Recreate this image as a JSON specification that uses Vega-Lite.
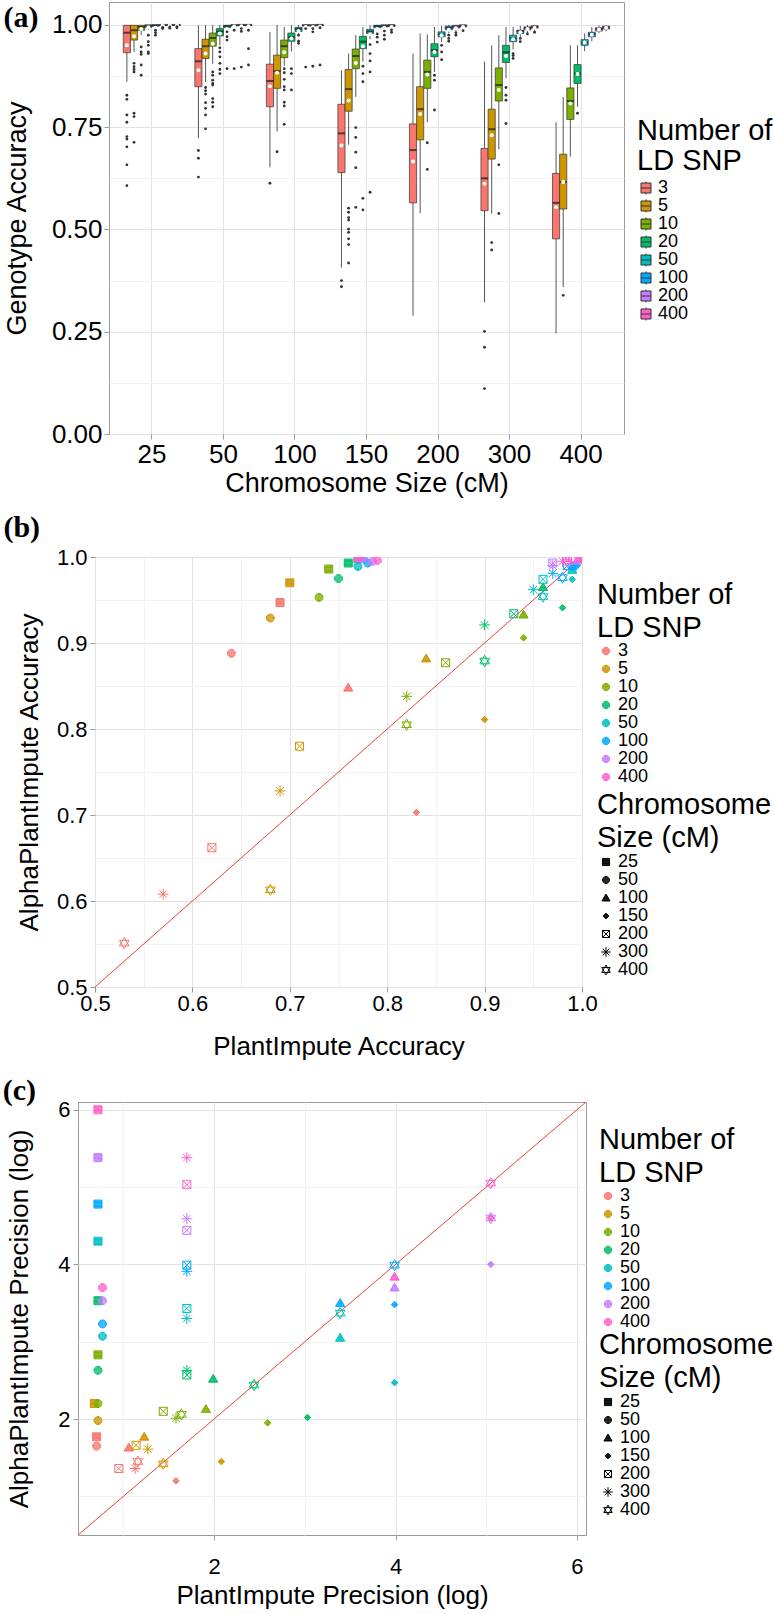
{
"$schema": "https://vega.github.io/schema/vega-lite/v6.json",
"padding": {"left": 1, "top": 1, "right": 0, "bottom": 0},
"datasets": {
"boxes": [
{"s":25,"ld":3,"lo":0.861,"q1":0.932,"med":0.981,"q3":0.999,"hi":1,"mean":0.950},
{"s":25,"ld":5,"lo":0.934,"q1":0.963,"med":0.987,"q3":0.999,"hi":1,"mean":0.972},
{"s":25,"ld":10,"lo":0.975,"q1":0.987,"med":0.995,"q3":0.999,"hi":1,"mean":0.990},
{"s":25,"ld":20,"lo":0.988,"q1":0.994,"med":0.998,"q3":1,"hi":1,"mean":0.994},
{"s":25,"ld":50,"lo":0.995,"q1":0.997,"med":0.999,"q3":1,"hi":1,"mean":0.993},
{"s":25,"ld":100,"lo":0.998,"q1":0.999,"med":1,"q3":1,"hi":1,"mean":0.999},
{"s":25,"ld":200,"lo":0.998,"q1":0.999,"med":1,"q3":1,"hi":1,"mean":0.999},
{"s":25,"ld":400,"lo":0.998,"q1":0.999,"med":1,"q3":1,"hi":1,"mean":0.999},
{"s":50,"ld":3,"lo":0.723,"q1":0.849,"med":0.911,"q3":0.942,"hi":0.999,"mean":0.889},
{"s":50,"ld":5,"lo":0.860,"q1":0.918,"med":0.948,"q3":0.965,"hi":1,"mean":0.930},
{"s":50,"ld":10,"lo":0.905,"q1":0.948,"med":0.968,"q3":0.980,"hi":1,"mean":0.954},
{"s":50,"ld":20,"lo":0.950,"q1":0.973,"med":0.984,"q3":0.991,"hi":1,"mean":0.979},
{"s":50,"ld":50,"lo":0.985,"q1":0.993,"med":0.997,"q3":0.999,"hi":1,"mean":0.990},
{"s":50,"ld":100,"lo":0.995,"q1":0.998,"med":0.999,"q3":1,"hi":1,"mean":0.996},
{"s":50,"ld":200,"lo":0.996,"q1":0.998,"med":1,"q3":1,"hi":1,"mean":0.997},
{"s":50,"ld":400,"lo":0.996,"q1":0.998,"med":1,"q3":1,"hi":1,"mean":0.997},
{"s":100,"ld":3,"lo":0.652,"q1":0.800,"med":0.863,"q3":0.904,"hi":0.983,"mean":0.850},
{"s":100,"ld":5,"lo":0.739,"q1":0.845,"med":0.887,"q3":0.926,"hi":1,"mean":0.883},
{"s":100,"ld":10,"lo":0.900,"q1":0.920,"med":0.948,"q3":0.963,"hi":0.995,"mean":0.933},
{"s":100,"ld":20,"lo":0.935,"q1":0.960,"med":0.970,"q3":0.980,"hi":1,"mean":0.967},
{"s":100,"ld":50,"lo":0.978,"q1":0.984,"med":0.990,"q3":0.994,"hi":1,"mean":0.985},
{"s":100,"ld":100,"lo":0.995,"q1":0.998,"med":0.999,"q3":1,"hi":1,"mean":0.995},
{"s":100,"ld":200,"lo":0.995,"q1":0.998,"med":0.999,"q3":1,"hi":1,"mean":0.995},
{"s":100,"ld":400,"lo":0.996,"q1":0.998,"med":1,"q3":1,"hi":1,"mean":0.996},
{"s":150,"ld":3,"lo":0.407,"q1":0.639,"med":0.735,"q3":0.806,"hi":0.889,"mean":0.705},
{"s":150,"ld":5,"lo":0.707,"q1":0.789,"med":0.843,"q3":0.891,"hi":0.930,"mean":0.815},
{"s":150,"ld":10,"lo":0.824,"q1":0.893,"med":0.924,"q3":0.941,"hi":0.975,"mean":0.907},
{"s":150,"ld":20,"lo":0.910,"q1":0.942,"med":0.959,"q3":0.972,"hi":0.995,"mean":0.948},
{"s":150,"ld":50,"lo":0.965,"q1":0.979,"med":0.984,"q3":0.989,"hi":0.999,"mean":0.977},
{"s":150,"ld":100,"lo":0.985,"q1":0.993,"med":0.997,"q3":0.999,"hi":1,"mean":0.990},
{"s":150,"ld":200,"lo":0.990,"q1":0.995,"med":0.998,"q3":1,"hi":1,"mean":0.993},
{"s":150,"ld":400,"lo":0.992,"q1":0.996,"med":0.999,"q3":1,"hi":1,"mean":0.995},
{"s":200,"ld":3,"lo":0.289,"q1":0.565,"med":0.694,"q3":0.758,"hi":0.930,"mean":0.666},
{"s":200,"ld":5,"lo":0.540,"q1":0.719,"med":0.794,"q3":0.849,"hi":0.979,"mean":0.782},
{"s":200,"ld":10,"lo":0.762,"q1":0.845,"med":0.885,"q3":0.914,"hi":0.977,"mean":0.879},
{"s":200,"ld":20,"lo":0.885,"q1":0.922,"med":0.938,"q3":0.954,"hi":0.995,"mean":0.934},
{"s":200,"ld":50,"lo":0.958,"q1":0.971,"med":0.977,"q3":0.983,"hi":0.998,"mean":0.975},
{"s":200,"ld":100,"lo":0.980,"q1":0.988,"med":0.993,"q3":0.997,"hi":1,"mean":0.988},
{"s":200,"ld":200,"lo":0.985,"q1":0.992,"med":0.996,"q3":0.999,"hi":1,"mean":0.992},
{"s":200,"ld":400,"lo":0.990,"q1":0.995,"med":0.998,"q3":1,"hi":1,"mean":0.995},
{"s":300,"ld":3,"lo":0.322,"q1":0.546,"med":0.625,"q3":0.698,"hi":0.910,"mean":0.612},
{"s":300,"ld":5,"lo":0.539,"q1":0.672,"med":0.745,"q3":0.794,"hi":0.950,"mean":0.730},
{"s":300,"ld":10,"lo":0.696,"q1":0.814,"med":0.853,"q3":0.895,"hi":0.975,"mean":0.841},
{"s":300,"ld":20,"lo":0.870,"q1":0.908,"med":0.933,"q3":0.950,"hi":0.995,"mean":0.924},
{"s":300,"ld":50,"lo":0.940,"q1":0.959,"med":0.967,"q3":0.975,"hi":0.995,"mean":0.965},
{"s":300,"ld":100,"lo":0.970,"q1":0.979,"med":0.985,"q3":0.987,"hi":0.998,"mean":0.982},
{"s":300,"ld":200,"lo":0.980,"q1":0.988,"med":0.992,"q3":0.995,"hi":1,"mean":0.990},
{"s":300,"ld":400,"lo":0.985,"q1":0.992,"med":0.995,"q3":0.998,"hi":1,"mean":0.993},
{"s":400,"ld":3,"lo":0.246,"q1":0.477,"med":0.565,"q3":0.637,"hi":0.762,"mean":0.554},
{"s":400,"ld":5,"lo":0.359,"q1":0.550,"med":0.616,"q3":0.684,"hi":0.824,"mean":0.616},
{"s":400,"ld":10,"lo":0.678,"q1":0.769,"med":0.814,"q3":0.846,"hi":0.950,"mean":0.808},
{"s":400,"ld":20,"lo":0.800,"q1":0.857,"med":0.881,"q3":0.903,"hi":0.950,"mean":0.880},
{"s":400,"ld":50,"lo":0.936,"q1":0.950,"med":0.957,"q3":0.964,"hi":0.979,"mean":0.957},
{"s":400,"ld":100,"lo":0.960,"q1":0.971,"med":0.977,"q3":0.982,"hi":0.995,"mean":0.976},
{"s":400,"ld":200,"lo":0.980,"q1":0.985,"med":0.990,"q3":0.993,"hi":0.999,"mean":0.989},
{"s":400,"ld":400,"lo":0.985,"q1":0.990,"med":0.994,"q3":0.997,"hi":1,"mean":0.993}
],
"outl": [
{"s":25,"ld":3,"v":0.828},{"s":25,"ld":3,"v":0.818},{"s":25,"ld":3,"v":0.780},{"s":25,"ld":3,"v":0.762},{"s":25,"ld":3,"v":0.727},{"s":25,"ld":3,"v":0.721},{"s":25,"ld":3,"v":0.702},{"s":25,"ld":3,"v":0.658},{"s":25,"ld":3,"v":0.607},
{"s":25,"ld":5,"v":0.906},{"s":25,"ld":5,"v":0.898},{"s":25,"ld":5,"v":0.891},{"s":25,"ld":5,"v":0.885},{"s":25,"ld":5,"v":0.784},{"s":25,"ld":5,"v":0.776},{"s":25,"ld":5,"v":0.713},
{"s":25,"ld":10,"v":0.946},{"s":25,"ld":10,"v":0.934},{"s":25,"ld":10,"v":0.928},{"s":25,"ld":10,"v":0.902},{"s":25,"ld":10,"v":0.877},
{"s":25,"ld":20,"v":0.975},{"s":25,"ld":20,"v":0.959},{"s":25,"ld":20,"v":0.950},{"s":25,"ld":20,"v":0.934},{"s":25,"ld":20,"v":0.930},
{"s":25,"ld":50,"v":0.987},{"s":25,"ld":50,"v":0.981},{"s":25,"ld":50,"v":0.975},
{"s":25,"ld":100,"v":0.994},{"s":25,"ld":100,"v":0.991},{"s":25,"ld":200,"v":0.995},{"s":25,"ld":200,"v":0.992},{"s":25,"ld":400,"v":0.996},{"s":25,"ld":400,"v":0.993},
{"s":50,"ld":3,"v":0.693},{"s":50,"ld":3,"v":0.674},{"s":50,"ld":3,"v":0.628},
{"s":50,"ld":5,"v":0.847},{"s":50,"ld":5,"v":0.839},{"s":50,"ld":5,"v":0.831},{"s":50,"ld":5,"v":0.810},{"s":50,"ld":5,"v":0.796},{"s":50,"ld":5,"v":0.780},{"s":50,"ld":5,"v":0.746},
{"s":50,"ld":10,"v":0.885},{"s":50,"ld":10,"v":0.877},{"s":50,"ld":10,"v":0.865},{"s":50,"ld":10,"v":0.857},{"s":50,"ld":10,"v":0.853},{"s":50,"ld":10,"v":0.820},{"s":50,"ld":10,"v":0.811},{"s":50,"ld":10,"v":0.800},
{"s":50,"ld":20,"v":0.944},{"s":50,"ld":20,"v":0.934},{"s":50,"ld":20,"v":0.922},{"s":50,"ld":20,"v":0.906},{"s":50,"ld":20,"v":0.891},{"s":50,"ld":20,"v":0.881},
{"s":50,"ld":50,"v":0.983},{"s":50,"ld":50,"v":0.971},{"s":50,"ld":50,"v":0.963},{"s":50,"ld":50,"v":0.893},
{"s":50,"ld":100,"v":0.987},{"s":50,"ld":100,"v":0.893},
{"s":50,"ld":200,"v":0.991},{"s":50,"ld":200,"v":0.984},{"s":50,"ld":200,"v":0.897},
{"s":50,"ld":400,"v":0.987},{"s":50,"ld":400,"v":0.942},{"s":50,"ld":400,"v":0.902},
{"s":100,"ld":3,"v":0.613},{"s":100,"ld":5,"v":0.690},
{"s":100,"ld":10,"v":0.893},{"s":100,"ld":10,"v":0.883},{"s":100,"ld":10,"v":0.867},{"s":100,"ld":10,"v":0.849},{"s":100,"ld":10,"v":0.841},{"s":100,"ld":10,"v":0.811},{"s":100,"ld":10,"v":0.802},{"s":100,"ld":10,"v":0.757},
{"s":100,"ld":20,"v":0.893},{"s":100,"ld":20,"v":0.881},{"s":100,"ld":20,"v":0.841},
{"s":100,"ld":50,"v":0.975},{"s":100,"ld":50,"v":0.960},{"s":100,"ld":50,"v":0.955},
{"s":100,"ld":100,"v":0.991},{"s":100,"ld":100,"v":0.897},
{"s":100,"ld":200,"v":0.991},{"s":100,"ld":200,"v":0.983},{"s":100,"ld":200,"v":0.899},
{"s":100,"ld":400,"v":0.993},{"s":100,"ld":400,"v":0.902},
{"s":150,"ld":3,"v":0.375},{"s":150,"ld":3,"v":0.360},
{"s":150,"ld":5,"v":0.552},{"s":150,"ld":5,"v":0.542},{"s":150,"ld":5,"v":0.529},{"s":150,"ld":5,"v":0.523},{"s":150,"ld":5,"v":0.501},{"s":150,"ld":5,"v":0.493},{"s":150,"ld":5,"v":0.477},{"s":150,"ld":5,"v":0.463},{"s":150,"ld":5,"v":0.418},
{"s":150,"ld":10,"v":0.749},{"s":150,"ld":10,"v":0.725},{"s":150,"ld":10,"v":0.689},{"s":150,"ld":10,"v":0.651},{"s":150,"ld":10,"v":0.554},
{"s":150,"ld":20,"v":0.899},{"s":150,"ld":20,"v":0.881},{"s":150,"ld":20,"v":0.861},{"s":150,"ld":20,"v":0.576},{"s":150,"ld":20,"v":0.548},
{"s":150,"ld":50,"v":0.952},{"s":150,"ld":50,"v":0.930},{"s":150,"ld":50,"v":0.912},{"s":150,"ld":50,"v":0.885},{"s":150,"ld":50,"v":0.591},
{"s":150,"ld":100,"v":0.978},{"s":150,"ld":100,"v":0.970},{"s":150,"ld":100,"v":0.958},
{"s":150,"ld":200,"v":0.985},{"s":150,"ld":200,"v":0.975},{"s":150,"ld":200,"v":0.965},
{"s":150,"ld":400,"v":0.988},{"s":150,"ld":400,"v":0.982},
{"s":200,"ld":10,"v":0.712},{"s":200,"ld":10,"v":0.647},
{"s":200,"ld":20,"v":0.877},{"s":200,"ld":20,"v":0.865},{"s":200,"ld":20,"v":0.792},
{"s":200,"ld":50,"v":0.950},{"s":200,"ld":50,"v":0.934},{"s":200,"ld":50,"v":0.915},
{"s":200,"ld":100,"v":0.975},{"s":200,"ld":100,"v":0.967},{"s":200,"ld":100,"v":0.960},
{"s":200,"ld":200,"v":0.981},{"s":200,"ld":200,"v":0.975},{"s":200,"ld":400,"v":0.986},
{"s":300,"ld":3,"v":0.251},{"s":300,"ld":3,"v":0.212},{"s":300,"ld":3,"v":0.111},
{"s":300,"ld":5,"v":0.468},{"s":300,"ld":5,"v":0.450},
{"s":300,"ld":10,"v":0.658},{"s":300,"ld":10,"v":0.539},
{"s":300,"ld":20,"v":0.847},{"s":300,"ld":20,"v":0.828},{"s":300,"ld":20,"v":0.816},{"s":300,"ld":20,"v":0.759},
{"s":300,"ld":50,"v":0.930},{"s":300,"ld":50,"v":0.925},{"s":300,"ld":50,"v":0.918},
{"s":300,"ld":100,"v":0.967},{"s":300,"ld":100,"v":0.959},
{"s":300,"ld":200,"v":0.978},{"s":300,"ld":400,"v":0.982},
{"s":400,"ld":5,"v":0.339},{"s":400,"ld":20,"v":0.784}
],
"ptsB": [
{"ld":3,"s":25,"pi":0.69,"api":0.947},{"ld":3,"s":50,"pi":0.64,"api":0.888},{"ld":3,"s":100,"pi":0.76,"api":0.848},{"ld":3,"s":150,"pi":0.83,"api":0.703},{"ld":3,"s":200,"pi":0.62,"api":0.662},{"ld":3,"s":300,"pi":0.57,"api":0.608},{"ld":3,"s":400,"pi":0.53,"api":0.551},
{"ld":5,"s":25,"pi":0.70,"api":0.970},{"ld":5,"s":50,"pi":0.68,"api":0.929},{"ld":5,"s":100,"pi":0.84,"api":0.882},{"ld":5,"s":150,"pi":0.90,"api":0.811},{"ld":5,"s":200,"pi":0.71,"api":0.780},{"ld":5,"s":300,"pi":0.69,"api":0.728},{"ld":5,"s":400,"pi":0.68,"api":0.613},
{"ld":10,"s":25,"pi":0.74,"api":0.986},{"ld":10,"s":50,"pi":0.73,"api":0.953},{"ld":10,"s":100,"pi":0.94,"api":0.933},{"ld":10,"s":150,"pi":0.94,"api":0.906},{"ld":10,"s":200,"pi":0.86,"api":0.877},{"ld":10,"s":300,"pi":0.82,"api":0.838},{"ld":10,"s":400,"pi":0.82,"api":0.805},
{"ld":20,"s":25,"pi":0.76,"api":0.993},{"ld":20,"s":50,"pi":0.75,"api":0.975},{"ld":20,"s":100,"pi":0.96,"api":0.965},{"ld":20,"s":150,"pi":0.98,"api":0.941},{"ld":20,"s":200,"pi":0.93,"api":0.934},{"ld":20,"s":300,"pi":0.90,"api":0.921},{"ld":20,"s":400,"pi":0.90,"api":0.879},
{"ld":50,"s":25,"pi":0.77,"api":0.998},{"ld":50,"s":50,"pi":0.77,"api":0.989},{"ld":50,"s":100,"pi":0.99,"api":0.985},{"ld":50,"s":150,"pi":0.99,"api":0.974},{"ld":50,"s":200,"pi":0.96,"api":0.974},{"ld":50,"s":300,"pi":0.95,"api":0.962},{"ld":50,"s":400,"pi":0.96,"api":0.954},
{"ld":100,"s":25,"pi":0.775,"api":0.999},{"ld":100,"s":50,"pi":0.78,"api":0.993},{"ld":100,"s":100,"pi":0.99,"api":0.989},{"ld":100,"s":150,"pi":0.995,"api":0.99},{"ld":100,"s":200,"pi":0.985,"api":0.99},{"ld":100,"s":300,"pi":0.97,"api":0.981},{"ld":100,"s":400,"pi":0.98,"api":0.976},
{"ld":200,"s":25,"pi":0.775,"api":0.999},{"ld":200,"s":50,"pi":0.785,"api":0.995},{"ld":200,"s":100,"pi":0.995,"api":0.996},{"ld":200,"s":150,"pi":0.998,"api":0.995},{"ld":200,"s":200,"pi":0.97,"api":0.993},{"ld":200,"s":300,"pi":0.97,"api":0.99},{"ld":200,"s":400,"pi":0.985,"api":0.994},
{"ld":400,"s":25,"pi":0.77,"api":0.999},{"ld":400,"s":50,"pi":0.79,"api":0.996},{"ld":400,"s":100,"pi":1.0,"api":0.998},{"ld":400,"s":150,"pi":0.999,"api":0.998},{"ld":400,"s":200,"pi":0.985,"api":0.997},{"ld":400,"s":300,"pi":0.98,"api":0.995},{"ld":400,"s":400,"pi":0.99,"api":0.998}
],
"ptsC": [
{"ld":3,"s":25,"pi":0.705,"api":1.77},{"ld":3,"s":50,"pi":0.705,"api":1.65},{"ld":3,"s":100,"pi":1.06,"api":1.63},{"ld":3,"s":150,"pi":1.58,"api":1.20},{"ld":3,"s":200,"pi":0.95,"api":1.36},{"ld":3,"s":300,"pi":1.13,"api":1.36},{"ld":3,"s":400,"pi":1.16,"api":1.45},
{"ld":5,"s":25,"pi":0.68,"api":2.20},{"ld":5,"s":50,"pi":0.72,"api":1.98},{"ld":5,"s":100,"pi":1.23,"api":1.77},{"ld":5,"s":150,"pi":2.08,"api":1.45},{"ld":5,"s":200,"pi":1.14,"api":1.66},{"ld":5,"s":300,"pi":1.27,"api":1.61},{"ld":5,"s":400,"pi":1.44,"api":1.42},
{"ld":10,"s":25,"pi":0.72,"api":2.83},{"ld":10,"s":50,"pi":0.72,"api":2.20},{"ld":10,"s":100,"pi":1.91,"api":2.13},{"ld":10,"s":150,"pi":2.59,"api":1.95},{"ld":10,"s":200,"pi":1.44,"api":2.10},{"ld":10,"s":300,"pi":1.58,"api":2.01},{"ld":10,"s":400,"pi":1.64,"api":2.06},
{"ld":20,"s":25,"pi":0.72,"api":3.53},{"ld":20,"s":50,"pi":0.72,"api":2.63},{"ld":20,"s":100,"pi":1.99,"api":2.52},{"ld":20,"s":150,"pi":3.03,"api":2.02},{"ld":20,"s":200,"pi":1.70,"api":2.57},{"ld":20,"s":300,"pi":1.70,"api":2.63},{"ld":20,"s":400,"pi":2.44,"api":2.44},
{"ld":50,"s":25,"pi":0.72,"api":4.30},{"ld":50,"s":50,"pi":0.77,"api":3.07},{"ld":50,"s":100,"pi":3.39,"api":3.05},{"ld":50,"s":150,"pi":3.99,"api":2.47},{"ld":50,"s":200,"pi":1.70,"api":3.43},{"ld":50,"s":300,"pi":1.70,"api":3.30},{"ld":50,"s":400,"pi":3.39,"api":3.37},
{"ld":100,"s":25,"pi":0.72,"api":4.78},{"ld":100,"s":50,"pi":0.77,"api":3.23},{"ld":100,"s":100,"pi":3.39,"api":3.50},{"ld":100,"s":150,"pi":3.99,"api":3.48},{"ld":100,"s":200,"pi":1.70,"api":3.99},{"ld":100,"s":300,"pi":1.70,"api":3.91},{"ld":100,"s":400,"pi":3.99,"api":3.99},
{"ld":200,"s":25,"pi":0.72,"api":5.38},{"ld":200,"s":50,"pi":0.77,"api":3.53},{"ld":200,"s":100,"pi":3.99,"api":3.70},{"ld":200,"s":150,"pi":5.05,"api":4.0},{"ld":200,"s":200,"pi":1.70,"api":4.44},{"ld":200,"s":300,"pi":1.70,"api":4.59},{"ld":200,"s":400,"pi":5.05,"api":4.6},
{"ld":400,"s":25,"pi":0.72,"api":6.0},{"ld":400,"s":50,"pi":0.77,"api":3.70},{"ld":400,"s":100,"pi":3.99,"api":3.84},{"ld":400,"s":150,"pi":5.05,"api":4.6},{"ld":400,"s":200,"pi":1.70,"api":5.03},{"ld":400,"s":300,"pi":1.70,"api":5.38},{"ld":400,"s":400,"pi":5.05,"api":5.05}
],
"diagB": [{"v":0.5},{"v":1.0}],
"diagC": [{"v":0.5},{"v":6.1}],
"none": []
},
"concat": [
{"hconcat": [
{"width": 1, "height": 1, "data": {"name": "none"}, "mark": {"type": "point", "opacity": 0}, "view": {"stroke": null}},
{
"width": 515, "height": 432,
"title": {"text": "(a)", "anchor": "start", "frame": "bounds", "font": "Liberation Serif", "fontWeight": "bold", "fontSize": 30, "baseline": "top", "offset": -31, "color": "#000"},
"encoding": {
 "x": {"field": "s", "type": "ordinal", "title": "Chromosome Size (cM)", "scale": {"domain": [25,50,100,150,200,300,400], "paddingInner": 0, "paddingOuter": 0.1},
  "axis": {"labelAngle": 0, "labelFontSize": 26, "titleFontSize": 27, "labelPadding": 2, "titlePadding": 3, "grid": true, "bandPosition": 0.5}},
 "xOffset": {"field": "ld", "type": "ordinal", "scale": {"domain": [3,5,10,20,50,100,200,400], "paddingInner": 0, "paddingOuter": 1.36}}
},
"layer": [
 {"data": {"name": "boxes"}, "mark": {"type": "rule", "color": "#555555", "strokeWidth": 1},
  "encoding": {"y": {"field": "lo", "type": "quantitative", "title": "Genotype Accuracy", "scale": {"domain": [0, 1.056], "nice": false, "zero": false},
    "axis": {"values": [0,0.125,0.25,0.375,0.5,0.625,0.75,0.875,1], "format": ".2f", "labelExpr": "(datum.value*4) % 1 === 0 ? datum.label : ''",
     "tickOpacity": {"condition": {"test": "(datum.value*4) % 1 === 0", "value": 1}, "value": 0},
     "gridColor": {"condition": {"test": "(datum.value*4) % 1 === 0", "value": "#e3e3e3"}, "value": "#f2f2f2"},
     "labelFontSize": 26, "titleFontSize": 27, "labelPadding": 2, "titlePadding": 20}},
   "y2": {"field": "hi"}}},
 {"data": {"name": "boxes"}, "mark": {"type": "bar", "stroke": "#333333", "strokeWidth": 0.7},
  "encoding": {"y": {"field": "q1", "type": "quantitative", "title": "Genotype Accuracy"}, "y2": {"field": "q3"},
   "fill": {"field": "ld", "type": "ordinal", "scale": {"domain": [3,5,10,20,50,100,200,400], "range": ["#F8766D","#CD9600","#7CAE00","#00BE67","#00BFC4","#00A9FF","#C77CFF","#FF61CC"]},
    "legend": {"orient": "none", "legendX": 528, "legendY": 115, "title": ["Number of", "LD SNP"], "titleFontSize": 29, "titleLineHeight": 30, "titlePadding": 3,
     "labelFontSize": 18, "labelOffset": 3, "rowPadding": 0, "symbolType": "M0,-1.3V-1 M-1,-1H1V1H-1Z M0,1V1.3 M-1,0H1", "symbolSize": 100, "symbolStrokeColor": "#333333", "symbolStrokeWidth": 1}}}},
 {"data": {"name": "boxes"}, "mark": {"type": "tick", "color": "#1a1a1a", "thickness": 2, "size": 7, "orient": "horizontal"},
  "encoding": {"y": {"field": "med", "type": "quantitative", "title": "Genotype Accuracy"}}},
 {"data": {"name": "boxes"}, "mark": {"type": "point", "filled": true, "color": "#ffffff", "size": 16, "opacity": 1},
  "encoding": {"y": {"field": "mean", "type": "quantitative", "title": "Genotype Accuracy"}}},
 {"data": {"name": "outl"}, "mark": {"type": "point", "filled": true, "color": "#333333", "size": 8, "opacity": 1},
  "encoding": {"y": {"field": "v", "type": "quantitative", "title": "Genotype Accuracy"}}}
]
}],
"spacing": 0,
"resolve": {"scale": {"fill": "independent", "color": "independent", "shape": "independent"}, "legend": {"fill": "independent", "color": "independent", "shape": "independent"}}
},
{"hconcat": [
{"width": 1, "height": 1, "data": {"name": "none"}, "mark": {"type": "point", "opacity": 0}, "view": {"stroke": null}},
{
"width": 487, "height": 430,
"title": {"text": "(b)", "anchor": "start", "frame": "bounds", "font": "Liberation Serif", "fontWeight": "bold", "fontSize": 30, "baseline": "alphabetic", "offset": -21, "dx": -13, "color": "#000"},
"layer": [
 {"data": {"name": "diagB"}, "mark": {"type": "line", "color": "#e8443a", "strokeWidth": 1, "clip": true},
  "encoding": {
   "x": {"field": "v", "type": "quantitative", "title": "PlantImpute Accuracy", "scale": {"domain": [0.5, 1.0], "nice": false, "zero": false},
    "axis": {"values": [0.5,0.55,0.6,0.65,0.7,0.75,0.8,0.85,0.9,0.95,1], "format": ".1f", "labelExpr": "round(datum.value*20) % 2 === 0 ? datum.label : ''",
     "tickOpacity": {"condition": {"test": "round(datum.value*20) % 2 === 0", "value": 1}, "value": 0},
     "gridColor": {"condition": {"test": "round(datum.value*20) % 2 === 0", "value": "#e3e3e3"}, "value": "#f2f2f2"},
     "labelFontSize": 22, "titleFontSize": 26, "labelPadding": 1, "titlePadding": 19}},
   "y": {"field": "v", "type": "quantitative", "title": "AlphaPlantImpute Accuracy", "scale": {"domain": [0.5, 1.0], "nice": false, "zero": false},
    "axis": {"values": [0.5,0.55,0.6,0.65,0.7,0.75,0.8,0.85,0.9,0.95,1], "format": ".1f", "labelExpr": "round(datum.value*20) % 2 === 0 ? datum.label : ''",
     "tickOpacity": {"condition": {"test": "round(datum.value*20) % 2 === 0", "value": 1}, "value": 0},
     "gridColor": {"condition": {"test": "round(datum.value*20) % 2 === 0", "value": "#e3e3e3"}, "value": "#f2f2f2"},
     "labelFontSize": 22, "titleFontSize": 26, "labelPadding": 3, "titlePadding": 14}}}},
 {"data": {"name": "ptsB"}, "mark": {"type": "point", "filled": false, "size": 64, "strokeWidth": 1, "opacity": 1, "clip": true},
  "encoding": {
   "x": {"field": "pi", "type": "quantitative", "title": "PlantImpute Accuracy"},
   "y": {"field": "api", "type": "quantitative", "title": "AlphaPlantImpute Accuracy"},
   "color": {"field": "ld", "type": "ordinal", "scale": {"domain": [3,5,10,20,50,100,200,400], "range": ["#F8766D","#CD9600","#7CAE00","#00BE67","#00BFC4","#00A9FF","#C77CFF","#FF61CC"]},
    "legend": {"orient": "none", "legendX": 502, "legendY": 24, "title": ["Number of", "LD SNP"], "titleFontSize": 29, "titleLineHeight": 33, "titlePadding": -1,
     "labelFontSize": 18, "labelOffset": 3, "rowPadding": 0, "symbolSize": 56, "symbolStrokeWidth": 1,
     "symbolType": "M-1,0A1,1,0,1,0,1,0A1,1,0,1,0,-1,0Z M-0.8,0A0.8,0.8,0,1,0,0.8,0A0.8,0.8,0,1,0,-0.8,0Z M-0.6,0A0.6,0.6,0,1,0,0.6,0A0.6,0.6,0,1,0,-0.6,0Z M-0.4,0A0.4,0.4,0,1,0,0.4,0A0.4,0.4,0,1,0,-0.4,0Z M-0.2,0A0.2,0.2,0,1,0,0.2,0A0.2,0.2,0,1,0,-0.2,0Z M-0.05,0H0.05"}},
   "shape": {"field": "s", "type": "ordinal", "scale": {"domain": [25,50,100,150,200,300,400], "range": [
     "M-1,-1H1V1H-1Z M-1,-0.8H1 M-1,-0.6H1 M-1,-0.4H1 M-1,-0.2H1 M-1,0H1 M-1,0.2H1 M-1,0.4H1 M-1,0.6H1 M-1,0.8H1",
     "M-1,0A1,1,0,1,0,1,0A1,1,0,1,0,-1,0Z M-0.8,0A0.8,0.8,0,1,0,0.8,0A0.8,0.8,0,1,0,-0.8,0Z M-0.6,0A0.6,0.6,0,1,0,0.6,0A0.6,0.6,0,1,0,-0.6,0Z M-0.4,0A0.4,0.4,0,1,0,0.4,0A0.4,0.4,0,1,0,-0.4,0Z M-0.2,0A0.2,0.2,0,1,0,0.2,0A0.2,0.2,0,1,0,-0.2,0Z M-0.05,0H0.05",
     "M0,-1.1L1.15,0.85L-1.15,0.85Z M-0.12,-0.9H0.12 M-0.24,-0.7H0.24 M-0.35,-0.5H0.35 M-0.47,-0.3H0.47 M-0.59,-0.1H0.59 M-0.71,0.1H0.71 M-0.83,0.3H0.83 M-0.94,0.5H0.94 M-1.06,0.7H1.06",
     "M0,-0.8L0.8,0L0,0.8L-0.8,0Z M-0.2,-0.6H0.2 M-0.4,-0.4H0.4 M-0.6,-0.2H0.6 M-0.8,0H0.8 M-0.6,0.2H0.6 M-0.4,0.4H0.4 M-0.2,0.6H0.2",
     "M-1,-1H1V1H-1Z M-1,-1L1,1 M1,-1L-1,1",
     "M-1.35,0H1.35 M0,-1.35V1.35 M-0.95,-0.95L0.95,0.95 M0.95,-0.95L-0.95,0.95",
     "M0,-1.4L1.2,0.7L-1.2,0.7Z M0,1.4L1.2,-0.7L-1.2,-0.7Z"]},
    "legend": {"orient": "none", "legendX": 502, "legendY": 234, "title": ["Chromosome", "Size (cM)"], "titleFontSize": 29, "titleLineHeight": 33, "titlePadding": 0,
     "labelFontSize": 18, "labelOffset": 3, "rowPadding": 0, "symbolSize": 50, "symbolStrokeColor": "#000000", "symbolStrokeWidth": 1}}
  }}
]
}],
"spacing": 0,
"resolve": {"scale": {"fill": "independent", "color": "independent", "shape": "independent"}, "legend": {"fill": "independent", "color": "independent", "shape": "independent"}}
},
{"hconcat": [
{"width": 1, "height": 1, "data": {"name": "none"}, "mark": {"type": "point", "opacity": 0}, "view": {"stroke": null}},
{
"width": 508, "height": 433,
"title": {"text": "(c)", "anchor": "start", "frame": "bounds", "font": "Liberation Serif", "fontWeight": "bold", "fontSize": 30, "baseline": "alphabetic", "offset": -31, "dx": -4, "color": "#000"},
"layer": [
 {"data": {"name": "diagC"}, "mark": {"type": "line", "color": "#e8443a", "strokeWidth": 1, "clip": true},
  "encoding": {
   "x": {"field": "v", "type": "quantitative", "title": "PlantImpute Precision (log)", "scale": {"domain": [0.5, 6.1], "nice": false, "zero": false},
    "axis": {"values": [1,2,3,4,5,6], "format": "d", "labelExpr": "datum.value % 2 === 0 ? datum.label : ''",
     "tickOpacity": {"condition": {"test": "datum.value % 2 === 0", "value": 1}, "value": 0},
     "gridColor": {"condition": {"test": "datum.value % 2 === 0", "value": "#e3e3e3"}, "value": "#f2f2f2"},
     "labelFontSize": 22, "titleFontSize": 26, "labelPadding": 16, "titlePadding": 5}},
   "y": {"field": "v", "type": "quantitative", "title": "AlphaPlantImpute Precision (log)", "scale": {"domain": [0.5, 6.1], "nice": false, "zero": false},
    "axis": {"values": [1,2,3,4,5,6], "format": "d", "labelExpr": "datum.value % 2 === 0 ? datum.label : ''",
     "tickOpacity": {"condition": {"test": "datum.value % 2 === 0", "value": 1}, "value": 0},
     "gridColor": {"condition": {"test": "datum.value % 2 === 0", "value": "#e3e3e3"}, "value": "#f2f2f2"},
     "labelFontSize": 22, "titleFontSize": 26, "labelPadding": 3, "titlePadding": 25}}}},
 {"data": {"name": "ptsC"}, "mark": {"type": "point", "filled": false, "size": 64, "strokeWidth": 1, "opacity": 1, "clip": true},
  "encoding": {
   "x": {"field": "pi", "type": "quantitative", "title": "PlantImpute Precision (log)"},
   "y": {"field": "api", "type": "quantitative", "title": "AlphaPlantImpute Precision (log)"},
   "color": {"field": "ld", "type": "ordinal", "scale": {"domain": [3,5,10,20,50,100,200,400], "range": ["#F8766D","#CD9600","#7CAE00","#00BE67","#00BFC4","#00A9FF","#C77CFF","#FF61CC"]},
    "legend": {"orient": "none", "legendX": 521, "legendY": 24, "title": ["Number of", "LD SNP"], "titleFontSize": 29, "titleLineHeight": 33, "titlePadding": -1,
     "labelFontSize": 18, "labelOffset": 3, "rowPadding": 0, "symbolSize": 56, "symbolStrokeWidth": 1,
     "symbolType": "M-1,0A1,1,0,1,0,1,0A1,1,0,1,0,-1,0Z M-0.8,0A0.8,0.8,0,1,0,0.8,0A0.8,0.8,0,1,0,-0.8,0Z M-0.6,0A0.6,0.6,0,1,0,0.6,0A0.6,0.6,0,1,0,-0.6,0Z M-0.4,0A0.4,0.4,0,1,0,0.4,0A0.4,0.4,0,1,0,-0.4,0Z M-0.2,0A0.2,0.2,0,1,0,0.2,0A0.2,0.2,0,1,0,-0.2,0Z M-0.05,0H0.05"}},
   "shape": {"field": "s", "type": "ordinal", "scale": {"domain": [25,50,100,150,200,300,400], "range": [
     "M-1,-1H1V1H-1Z M-1,-0.8H1 M-1,-0.6H1 M-1,-0.4H1 M-1,-0.2H1 M-1,0H1 M-1,0.2H1 M-1,0.4H1 M-1,0.6H1 M-1,0.8H1",
     "M-1,0A1,1,0,1,0,1,0A1,1,0,1,0,-1,0Z M-0.8,0A0.8,0.8,0,1,0,0.8,0A0.8,0.8,0,1,0,-0.8,0Z M-0.6,0A0.6,0.6,0,1,0,0.6,0A0.6,0.6,0,1,0,-0.6,0Z M-0.4,0A0.4,0.4,0,1,0,0.4,0A0.4,0.4,0,1,0,-0.4,0Z M-0.2,0A0.2,0.2,0,1,0,0.2,0A0.2,0.2,0,1,0,-0.2,0Z M-0.05,0H0.05",
     "M0,-1.1L1.15,0.85L-1.15,0.85Z M-0.12,-0.9H0.12 M-0.24,-0.7H0.24 M-0.35,-0.5H0.35 M-0.47,-0.3H0.47 M-0.59,-0.1H0.59 M-0.71,0.1H0.71 M-0.83,0.3H0.83 M-0.94,0.5H0.94 M-1.06,0.7H1.06",
     "M0,-0.8L0.8,0L0,0.8L-0.8,0Z M-0.2,-0.6H0.2 M-0.4,-0.4H0.4 M-0.6,-0.2H0.6 M-0.8,0H0.8 M-0.6,0.2H0.6 M-0.4,0.4H0.4 M-0.2,0.6H0.2",
     "M-1,-1H1V1H-1Z M-1,-1L1,1 M1,-1L-1,1",
     "M-1.35,0H1.35 M0,-1.35V1.35 M-0.95,-0.95L0.95,0.95 M0.95,-0.95L-0.95,0.95",
     "M0,-1.4L1.2,0.7L-1.2,0.7Z M0,1.4L1.2,-0.7L-1.2,-0.7Z"]},
    "legend": {"orient": "none", "legendX": 521, "legendY": 229, "title": ["Chromosome", "Size (cM)"], "titleFontSize": 29, "titleLineHeight": 33, "titlePadding": 0,
     "labelFontSize": 18, "labelOffset": 3, "rowPadding": 0, "symbolSize": 50, "symbolStrokeColor": "#000000", "symbolStrokeWidth": 1}}
  }}
]
}],
"spacing": 0,
"resolve": {"scale": {"fill": "independent", "color": "independent", "shape": "independent"}, "legend": {"fill": "independent", "color": "independent", "shape": "independent"}}
}
],
"columns": 1, "spacing": 15,
"resolve": {"scale": {"x": "independent", "y": "independent", "fill": "independent", "stroke": "independent", "shape": "independent", "color": "independent"}, "legend": {"fill": "independent", "stroke": "independent", "shape": "independent", "color": "independent"}},
"config": {
 "font": "Liberation Sans",
 "view": {"stroke": "#999999", "strokeWidth": 1},
 "axis": {"domain": false, "tickColor": "#999999", "tickSize": 5, "tickWidth": 1, "labelColor": "#000000", "titleColor": "#000000", "titleFontWeight": "normal", "gridColor": "#e3e3e3", "gridWidth": 1, "labelFont": "Liberation Sans", "titleFont": "Liberation Sans", "labelOverlap": false, "labelFlush": false},
 "legend": {"titleFontWeight": "normal", "titleColor": "#000000", "labelColor": "#000000", "labelFont": "Liberation Sans", "titleFont": "Liberation Sans", "padding": 0}
}
}
